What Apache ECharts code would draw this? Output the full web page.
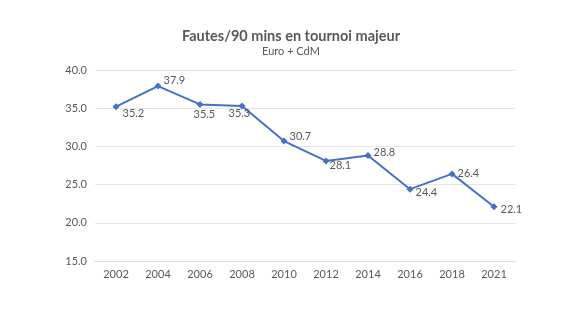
<!DOCTYPE html>
<html><head><meta charset="utf-8">
<script src="https://cdn.jsdelivr.net/npm/echarts@6/dist/echarts.min.js"></script>
<style>html,body{margin:0;padding:0;background:#fff}#c{width:582px;height:327px}</style>
</head><body><div id="c"></div>
<script>
const categories = ['2002','2004','2006','2008','2010','2012','2014','2016','2018','2021'];
const values = [35.2, 37.9, 35.5, 35.3, 30.7, 28.1, 28.8, 24.4, 26.4, 22.1];
const yTicks = {min: 15, max: 40, interval: 5};
const labelOffsets = [[1,7],[0,-6],[-12,10],[-19,8],[0,-5],[-2,5],[0,-3],[0,3],[0,0],[1,3]];

const chart = echarts.init(document.getElementById('c'));
const font = 'Lato, "Liberation Sans", sans-serif';
chart.setOption({
  animation: false,
  title: {
    text: 'Fautes/90 mins en tournoi majeur',
    subtext: 'Euro + CdM',
    left: 'center',
    top: 24,
    padding: [5, 0, 5, 7],
    itemGap: 2,
    textStyle: {fontFamily: font, fontSize: 14.5, fontWeight: 'bold', color: '#595959'},
    subtextStyle: {fontFamily: font, fontSize: 11, color: '#595959'}
  },
  grid: {left: 95, right: 67, top: 70, bottom: 66},
  xAxis: {
    type: 'category',
    data: categories,
    boundaryGap: true,
    axisLine: {lineStyle: {color: '#d9d9d9', width: 1}},
    axisTick: {show: false},
    axisLabel: {color: '#595959', fontFamily: font, fontSize: 11, margin: 8}
  },
  yAxis: {
    type: 'value',
    min: yTicks.min, max: yTicks.max, interval: yTicks.interval,
    axisLine: {show: false},
    axisTick: {show: false},
    splitLine: {lineStyle: {color: '#e6e6e6', width: 1}},
    axisLabel: {color: '#595959', fontFamily: font, fontSize: 11, margin: 8,
      formatter: v => v.toFixed(1)}
  },
  series: [{
    type: 'line',
    data: values.map((v, i) => ({
      value: v,
      label: {offset: labelOffsets[i]}
    })),
    symbol: 'diamond',
    symbolSize: 7,
    lineStyle: {color: '#4472C4', width: 2},
    itemStyle: {color: '#4472C4'},
    label: {
      show: true, position: 'right', distance: 2,
      color: '#595959', fontFamily: font, fontSize: 11,
      formatter: p => p.value.toFixed(1)
    }
  }]
});
</script></body></html>
